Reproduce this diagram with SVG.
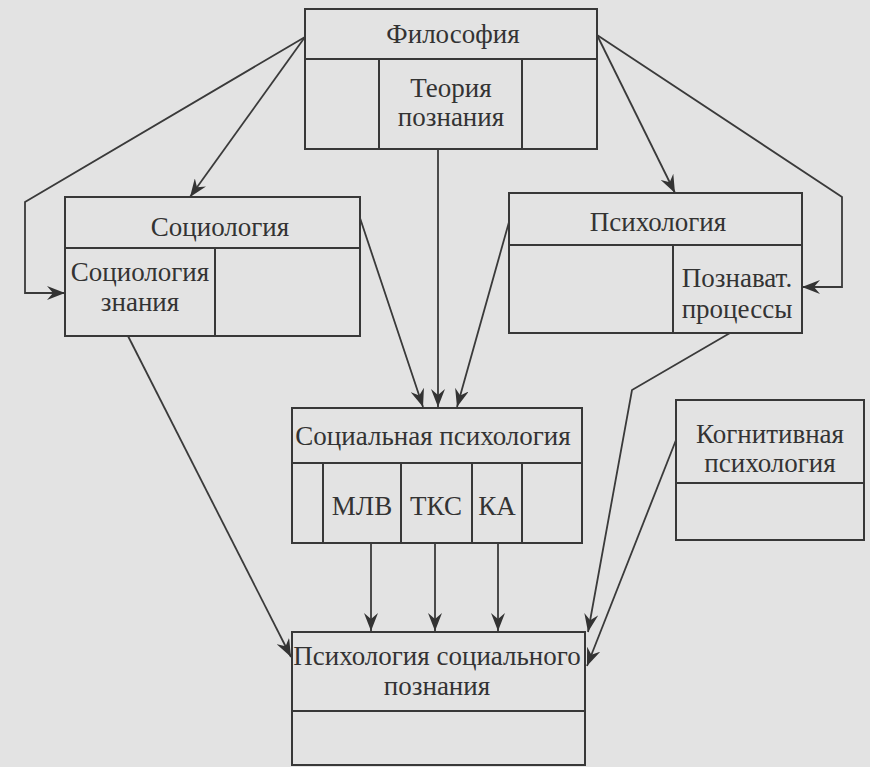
<svg xmlns="http://www.w3.org/2000/svg" width="870" height="767" viewBox="0 0 870 767">
<defs>
<marker id="ah" viewBox="0 0 18 14" refX="18" refY="7" markerWidth="18" markerHeight="14" markerUnits="userSpaceOnUse" orient="auto">
<path d="M0,0 L18,7 L0,14 L6,7 z" fill="#333"/>
</marker>
</defs>
<rect x="0" y="0" width="870" height="767" fill="#e3e3e3"/>

<g id="filosofia" fill="none" stroke="#383838" stroke-width="2">
<rect x="305" y="9" width="292" height="140"/>
<line x1="305" y1="59" x2="597" y2="59"/>
<line x1="379" y1="59" x2="379" y2="149"/>
<line x1="522" y1="59" x2="522" y2="149"/>
<text x="453" y="43" stroke="none" fill="#333" font-family="Liberation Serif" font-size="27" text-anchor="middle">Философия</text>
<text x="451" y="97" stroke="none" fill="#333" font-family="Liberation Serif" font-size="27" text-anchor="middle">Теория</text>
<text x="451" y="126" stroke="none" fill="#333" font-family="Liberation Serif" font-size="27" text-anchor="middle">познания</text>
</g>

<g id="sociologia" fill="none" stroke="#383838" stroke-width="2">
<rect x="65" y="197" width="295" height="139"/>
<line x1="65" y1="248" x2="360" y2="248"/>
<line x1="215" y1="248" x2="215" y2="336"/>
<text x="220" y="236" stroke="none" fill="#333" font-family="Liberation Serif" font-size="27" text-anchor="middle">Социология</text>
<text x="140" y="281" stroke="none" fill="#333" font-family="Liberation Serif" font-size="27" text-anchor="middle">Социология</text>
<text x="140" y="311" stroke="none" fill="#333" font-family="Liberation Serif" font-size="27" text-anchor="middle">знания</text>
</g>

<g id="psihologia" fill="none" stroke="#383838" stroke-width="2">
<rect x="509" y="193" width="293" height="140"/>
<line x1="509" y1="245" x2="802" y2="245"/>
<line x1="673" y1="245" x2="673" y2="333"/>
<text x="658" y="231" stroke="none" fill="#333" font-family="Liberation Serif" font-size="27" text-anchor="middle">Психология</text>
<text x="737" y="287" stroke="none" fill="#333" font-family="Liberation Serif" font-size="27" text-anchor="middle">Познават.</text>
<text x="737" y="318" stroke="none" fill="#333" font-family="Liberation Serif" font-size="27" text-anchor="middle">процессы</text>
</g>

<g id="socpsih" fill="none" stroke="#383838" stroke-width="2">
<rect x="292" y="408" width="290" height="135"/>
<line x1="292" y1="463" x2="582" y2="463"/>
<line x1="323" y1="463" x2="323" y2="543"/>
<line x1="401" y1="463" x2="401" y2="543"/>
<line x1="472" y1="463" x2="472" y2="543"/>
<line x1="522" y1="463" x2="522" y2="543"/>
<text x="433" y="445" stroke="none" fill="#333" font-family="Liberation Serif" font-size="27" text-anchor="middle">Социальная психология</text>
<text x="362" y="515" stroke="none" fill="#333" font-family="Liberation Serif" font-size="27" text-anchor="middle">МЛВ</text>
<text x="436" y="515" stroke="none" fill="#333" font-family="Liberation Serif" font-size="27" text-anchor="middle">ТКС</text>
<text x="497" y="515" stroke="none" fill="#333" font-family="Liberation Serif" font-size="27" text-anchor="middle">КА</text>
</g>

<g id="kognitiv" fill="none" stroke="#383838" stroke-width="2">
<rect x="676" y="400" width="188" height="140"/>
<line x1="676" y1="483" x2="864" y2="483"/>
<text x="770" y="443" stroke="none" fill="#333" font-family="Liberation Serif" font-size="27" text-anchor="middle">Когнитивная</text>
<text x="770" y="472" stroke="none" fill="#333" font-family="Liberation Serif" font-size="27" text-anchor="middle">психология</text>
</g>

<g id="psp" fill="none" stroke="#383838" stroke-width="2">
<rect x="292" y="632" width="293" height="133"/>
<line x1="292" y1="711" x2="585" y2="711"/>
<text x="437" y="665" stroke="none" fill="#333" font-family="Liberation Serif" font-size="27" text-anchor="middle">Психология социального</text>
<text x="437" y="695" stroke="none" fill="#333" font-family="Liberation Serif" font-size="27" text-anchor="middle">познания</text>
</g>

<g id="connectors" fill="none" stroke="#3a3a3a" stroke-width="1.8" marker-end="url(#ah)">
<polyline points="305,37 25,202 25,293 65,293"/>
<line x1="305" y1="37" x2="190" y2="197"/>
<line x1="597" y1="35" x2="675" y2="193"/>
<polyline points="597,35 842,197 842,287 802,287"/>
<line x1="438" y1="149" x2="438" y2="407"/>
<line x1="360" y1="218" x2="423" y2="407"/>
<line x1="509" y1="222" x2="457" y2="407"/>
<line x1="128" y1="336" x2="291" y2="657"/>
<line x1="371" y1="543" x2="371" y2="631"/>
<line x1="435" y1="543" x2="435" y2="631"/>
<line x1="498" y1="543" x2="498" y2="631"/>
<polyline points="730,333 632,390 588,632"/>
<line x1="676" y1="440" x2="587" y2="666"/>
</g>
</svg>
